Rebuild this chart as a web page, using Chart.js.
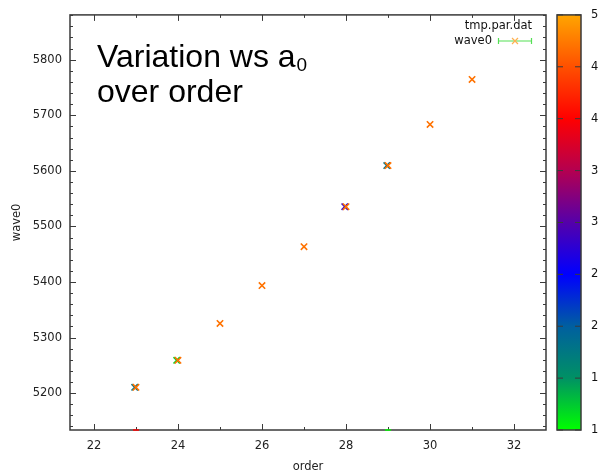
<!DOCTYPE html>
<html lang="en">
<head>
    <meta charset="UTF-8">
    <title>Variation ws a0 over order</title>
    <style>
        body { margin: 0; padding: 0; background: #fff; }
        #wrap { width: 605px; height: 475px; }
    </style>
    <script src="https://cdn.jsdelivr.net/npm/chart.js"></script>
</head>
<body>
    <div id="wrap"><canvas id="chart" width="605" height="475"></canvas></div>
    <script>
        // main series (orange points)
        const orders = [23, 24, 25, 26, 27, 28, 29, 30, 31];
        const wave0 = [5210.5, 5259, 5325.5, 5393.5, 5463.5, 5535.5, 5609.5, 5683.5, 5764.5];
        const cval = [4.7, 4.7, 4.7, 4.7, 4.7, 4.7, 4.7, 4.7, 4.7];

        // points hidden underneath the orange ones
        const ordersBack = [22.97, 23.97, 27.97, 28.97];
        const wave0Back = [5210.5, 5259, 5535.5, 5609.5];
        const cvalBack = [1.8, 1.2, 2.8, 1.8];

        // tiny marks sitting on the bottom axis
        const ordersEdge = [23, 29];
        const cvalEdge = [4.0, 1.0];

        const xTicks = [22, 24, 26, 28, 30, 32];
        const yTicks = [5200, 5300, 5400, 5500, 5600, 5700, 5800];
        const cbTicks = [1, 1.5, 2, 2.5, 3, 3.5, 4, 4.5, 5];

        const xMin = 21.43, xMax = 32.76;
        const yMin = 5133.7, yMax = 5880.6;
        const cbMin = 1, cbMax = 5;

        // palette stops (value -> rgb)
        const palette = [
            [1.0, [0, 255, 0]],
            [1.5, [0, 145, 100]],
            [2.0, [0, 95, 160]],
            [2.5, [0, 0, 255]],
            [3.0, [85, 0, 170]],
            [3.5, [180, 0, 80]],
            [4.0, [255, 0, 0]],
            [4.5, [255, 80, 0]],
            [5.0, [255, 165, 0]]
        ];

        function colorFor(v) {
            for (let i = 1; i < palette.length; i++) {
                if (v <= palette[i][0]) {
                    const [v0, c0] = palette[i - 1];
                    const [v1, c1] = palette[i];
                    const t = (v - v0) / (v1 - v0);
                    const c = c0.map((a, k) => Math.round(a + (c1[k] - a) * t));
                    return `rgb(${c[0]},${c[1]},${c[2]})`;
                }
            }
            const c = palette[palette.length - 1][1];
            return `rgb(${c[0]},${c[1]},${c[2]})`;
        }

        const tickFont = { family: 'DejaVu Sans', size: 11.5 };
        const frameColor = '#3a3a3a';

        // border with inward ticks on all sides, like gnuplot
        const framePlugin = {
            id: 'frame',
            beforeDatasetsDraw(chart) {
                const { ctx, chartArea: a, scales: { x, y } } = chart;
                ctx.save();
                ctx.strokeStyle = frameColor;
                ctx.lineWidth = 1.5;
                ctx.strokeRect(a.left, a.top, a.right - a.left, a.bottom - a.top);
                ctx.lineWidth = 1;
                ctx.beginPath();
                for (let v = 21; v <= 33; v++) {
                    if (v < xMin || v > xMax) continue;
                    const px = Math.round(x.getPixelForValue(v)) + 0.5;
                    const len = v % 2 === 0 ? 6 : 3;
                    ctx.moveTo(px, a.bottom); ctx.lineTo(px, a.bottom - len);
                    ctx.moveTo(px, a.top); ctx.lineTo(px, a.top + len);
                }
                for (let v = 5140; v <= 5880; v += 20) {
                    const py = Math.round(y.getPixelForValue(v)) + 0.5;
                    const len = v % 100 === 0 ? 6 : 3;
                    ctx.moveTo(a.left, py); ctx.lineTo(a.left + len, py);
                    ctx.moveTo(a.right, py); ctx.lineTo(a.right - len, py);
                }
                ctx.stroke();
                ctx.restore();
            },
            afterDraw(chart) {
                const { ctx, chartArea: a } = chart;
                ctx.save();

                // big label inside the plot
                ctx.fillStyle = '#000';
                ctx.textBaseline = 'alphabetic';
                ctx.font = '32px "Liberation Sans"';
                ctx.fillText('Variation ws a', 97, 67);
                const w = ctx.measureText('Variation ws a').width;
                ctx.font = '19px "Liberation Sans"';
                ctx.fillText('0', 97 + w + 1, 71);
                ctx.font = '32px "Liberation Sans"';
                ctx.fillText('over order', 97, 102);

                // key
                ctx.font = '11.5px "DejaVu Sans"';
                ctx.textAlign = 'right';
                ctx.textBaseline = 'middle';
                ctx.fillStyle = '#111';
                ctx.fillText('tmp.par.dat', 532, 26);
                ctx.fillText('wave0', 492, 41);
                ctx.strokeStyle = '#55e055';
                ctx.lineWidth = 1.2;
                ctx.beginPath();
                ctx.moveTo(498, 41); ctx.lineTo(532, 41);
                ctx.moveTo(498.5, 38); ctx.lineTo(498.5, 44);
                ctx.moveTo(531.5, 38); ctx.lineTo(531.5, 44);
                ctx.stroke();
                ctx.strokeStyle = '#ffb050';
                ctx.beginPath();
                ctx.moveTo(512, 38); ctx.lineTo(518, 44);
                ctx.moveTo(518, 38); ctx.lineTo(512, 44);
                ctx.stroke();

                // colour box
                const cbL = 557, cbR = 581, cbT = a.top, cbB = a.bottom;
                const grad = ctx.createLinearGradient(0, cbB, 0, cbT);
                palette.forEach(([v, c]) => {
                    grad.addColorStop((v - cbMin) / (cbMax - cbMin), `rgb(${c[0]},${c[1]},${c[2]})`);
                });
                ctx.fillStyle = grad;
                ctx.fillRect(cbL, cbT, cbR - cbL, cbB - cbT);
                ctx.strokeStyle = frameColor;
                ctx.lineWidth = 1.5;
                ctx.strokeRect(cbL, cbT, cbR - cbL, cbB - cbT);
                ctx.lineWidth = 1;
                ctx.textAlign = 'left';
                ctx.fillStyle = '#111';
                ctx.beginPath();
                cbTicks.forEach(v => {
                    const py = cbB - (v - cbMin) / (cbMax - cbMin) * (cbB - cbT);
                    ctx.moveTo(cbL, py); ctx.lineTo(cbL + 6, py);
                    ctx.moveTo(cbR, py); ctx.lineTo(cbR - 6, py);
                    ctx.fillText(String(Math.floor(v)), 591, py);
                });
                ctx.stroke();
                ctx.restore();
            }
        };

        const ctx = document.getElementById('chart').getContext('2d');
        new Chart(ctx, {
            type: 'scatter',
            data: {
                datasets: [
                    {
                        label: 'wave0',
                        order: 0,
                        data: orders.map((o, i) => ({ x: o, y: wave0[i] })),
                        pointStyle: 'crossRot',
                        pointRadius: 4.5,
                        borderWidth: 1.6,
                        borderColor: cval.map(colorFor)
                    },
                    {
                        label: 'back',
                        order: 1,
                        data: ordersBack.map((o, i) => ({ x: o, y: wave0Back[i] })),
                        pointStyle: 'crossRot',
                        pointRadius: 4.5,
                        borderWidth: 1.6,
                        borderColor: cvalBack.map(colorFor)
                    },
                    {
                        label: 'edge',
                        order: 2,
                        data: ordersEdge.map(o => ({ x: o, y: yMin })),
                        pointStyle: 'line',
                        pointRadius: 3,
                        borderWidth: 1.5,
                        borderColor: cvalEdge.map(colorFor),
                        clip: false
                    }
                ]
            },
            options: {
                responsive: false,
                animation: false,
                layout: { padding: { top: 13, right: 59, left: 0, bottom: 0 } },
                plugins: {
                    legend: { display: false },
                    tooltip: { enabled: false }
                },
                scales: {
                    x: {
                        type: 'linear',
                        min: xMin,
                        max: xMax,
                        afterBuildTicks: s => { s.ticks = xTicks.map(v => ({ value: v })); },
                        afterFit: s => { s.height = 45; },
                        grid: { display: false, drawTicks: false },
                        border: { display: false },
                        ticks: { font: tickFont, color: '#222', padding: 9, maxRotation: 0, callback: v => String(v) },
                        title: { display: true, text: 'order', font: tickFont, color: '#222', padding: { top: 0, bottom: 1 } }
                    },
                    y: {
                        type: 'linear',
                        min: yMin,
                        max: yMax,
                        afterBuildTicks: s => { s.ticks = yTicks.map(v => ({ value: v })); },
                        afterFit: s => { s.width = 70; },
                        grid: { display: false, drawTicks: false },
                        border: { display: false },
                        ticks: { font: tickFont, color: '#222', padding: 8, callback: v => String(v) },
                        title: { display: true, text: 'wave0', font: tickFont, color: '#222', padding: { top: 10, bottom: 0 } }
                    }
                }
            },
            plugins: [framePlugin]
        });
    </script>
</body>
</html>
